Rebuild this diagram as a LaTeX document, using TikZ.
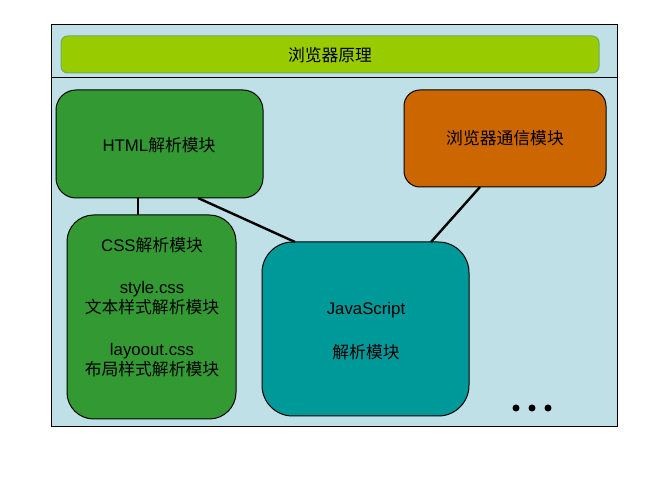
\documentclass[tikz,border=0pt]{standalone}
\usepackage{fontspec}
\setmainfont{Liberation Sans}
\newfontfamily\cjk{Noto Sans CJK SC}
\newcommand\zh[1]{{\cjk #1}}
\definecolor{bgblue}{HTML}{BFE0E6}
\definecolor{titlegreen}{HTML}{99CC00}
\definecolor{titleborder}{HTML}{6AAE5A}
\definecolor{modgreen}{HTML}{339933}
\definecolor{modorange}{HTML}{CC6600}
\definecolor{modteal}{HTML}{009999}
\begin{document}
\begin{tikzpicture}[x=0.75pt,y=-0.75pt,
  every node/.style={font=\fontsize{12.6}{14}\selectfont, inner sep=0pt, align=center},
  module/.style={draw=black, line width=0.75pt},
  link/.style={draw=black, line width=1.8pt}]
\useasboundingbox (0,0) rectangle (665,477);
\fill[white] (0,0) rectangle (665,477);
% frame
\draw[fill=bgblue, line width=0.75pt] (51,25) rectangle (617,427);
\draw[line width=0.75pt] (51,78) -- (617,78);
% title
\draw[fill=titlegreen, draw=titleborder, line width=0.75pt, rounded corners=5pt] (61,36) rectangle (599,73);
\node (title) at (330,55) {\zh{浏览器原理}};
% modules
\draw[module, fill=modgreen, rounded corners=15pt] (56,90) rectangle (263,198);
\coordinate (htmlbl) at (138,198);
\coordinate (htmlbr) at (198,198);
\node (html) at (159,145) {HTML\zh{解析模块}};
\draw[module, fill=modorange, rounded corners=12pt] (404,90) rectangle (606,187);
\coordinate (commb) at (480,187);
\node (comm) at (505,138) {\zh{浏览器通信模块}};
\draw[module, fill=modgreen, rounded corners=20pt] (67,215) rectangle (236,419);
\coordinate (csst) at (138,215);
\node (css1) at (152,245) {CSS\zh{解析模块}};
\node (css2) at (152,298) {style.css\\[1pt]\zh{文本样式解析模块}};
\node (css3) at (152,360) {layoout.css\\[1pt]\zh{布局样式解析模块}};
\draw[module, fill=modteal, rounded corners=23pt] (262,242) rectangle (469,416);
\coordinate (jstl) at (295,242);
\coordinate (jstr) at (431,242);
\node (js1) at (366,310) {JavaScript};
\node (js2) at (366,352) {\zh{解析模块}};
% connectors
\draw[link] (htmlbl) -- (csst);
\draw[link] (htmlbr) -- (jstl);
\draw[link] (commb) -- (jstr);
% dots
\foreach \x in {516,532,548} \fill (\x,408) circle (3.5);
\end{tikzpicture}
\end{document}
